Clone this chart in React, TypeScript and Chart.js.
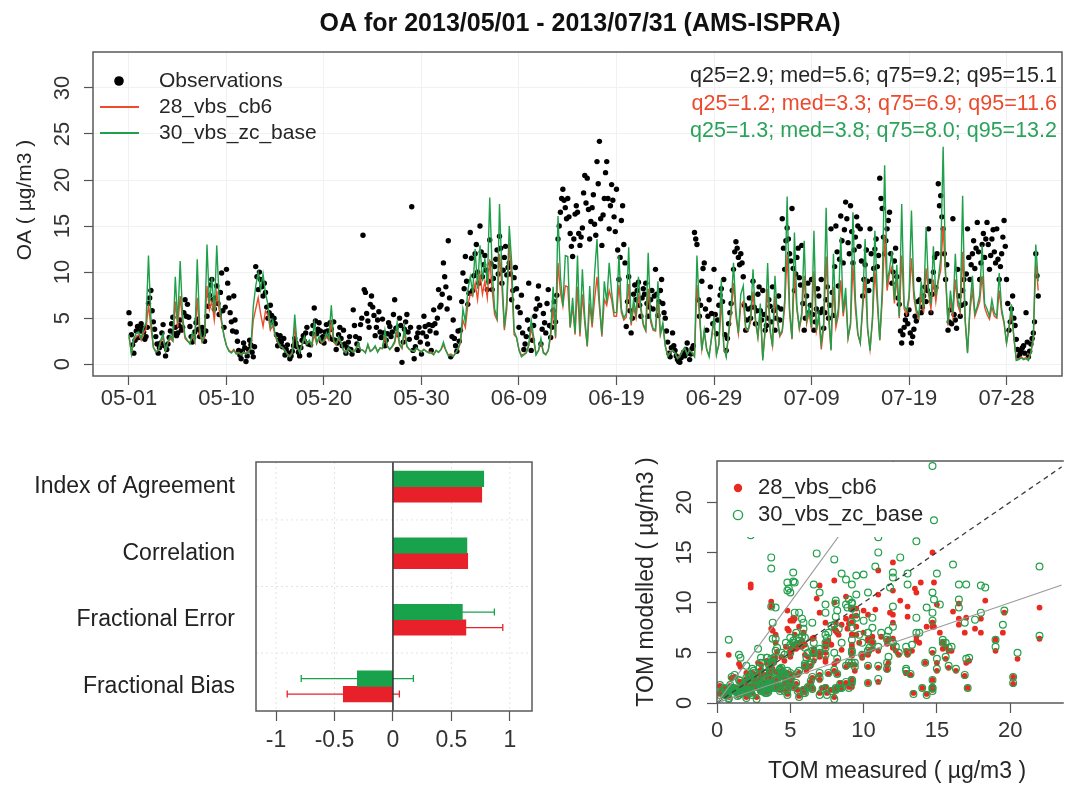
import React, { useEffect, useRef } from "react";
import { Chart, registerables } from "chart.js";

Chart.register(...registerables);

const FONT = '"Liberation Sans", Arial, Helvetica, sans-serif';

// ---------- Top panel: time series ----------
const chartTitle = "OA for 2013/05/01 - 2013/07/31 (AMS-ISPRA)";
const yTitleTop = "OA ( \u00b5g/m3 )";
const dateTickDays = [0, 10, 20, 30, 40, 50, 60, 70, 80, 90];
const dateTickLabels = ["05-01", "05-10", "05-20", "05-30", "06-09", "06-19", "06-29", "07-09", "07-19", "07-28"];
const oaTicks = [0, 5, 10, 15, 20, 25, 30];
const obsPerDay = 8;
const modelPerDay = 4;
const seriesNames = ["Observations", "28_vbs_cb6", "30_vbs_zc_base"];
const statsObs = "q25=2.9; med=5.6; q75=9.2; q95=15.1";
const statsCb6 = "q25=1.2; med=3.3; q75=6.9; q95=11.6";
const statsZc = "q25=1.3; med=3.8; q75=8.0; q95=13.2";

// observations, 8 per day (one line = one day)
const obsOA = [
  5.6, 4.4, 3.2, 2.1, 1.2, 2.6, 3.6, 4.1,
  2.9, 3.6, 4.4, 3.9, 3.5, 2.7, 3.0, 4.0,
  6.6, 7.2, 8.0, 5.8, 4.6, 3.8, 3.0, 2.2,
  1.2, 1.8, 2.3, 3.4, 4.3, 2.0, 0.9, 1.6,
  2.2, 2.9, 3.6, 4.4, 5.1, 3.3, 4.0, 3.1,
  3.4, 4.2, 4.8, 3.7, 4.0, 5.6, 7.0, 5.2,
  6.5, 5.1, 4.1, 3.0, 2.4, 2.9, 3.5, 4.5,
  4.9, 3.8, 3.0, 3.5, 4.0, 3.2, 2.5, 3.6,
  5.2, 6.3, 7.5, 8.6, 9.2, 7.0, 6.0, 7.2,
  8.5, 6.6, 5.4, 7.8, 9.9, 5.8, 4.0, 6.2,
  10.3, 8.8, 7.2, 5.6, 4.6, 3.6, 7.4, 4.8,
  3.5, 2.5, 1.5, 1.0, 0.6, 1.4, 2.3, 1.8,
  0.3, 0.9, 1.6, 2.6, 2.1, 1.3, 0.8, 1.9,
  10.6, 9.5, 8.1, 10.0, 9.2, 8.4, 7.4, 8.8,
  7.8, 6.2, 5.0, 5.6, 6.4, 5.3, 4.6, 5.0,
  4.4, 3.2, 2.0, 2.6, 3.1, 2.4, 1.9, 2.8,
  1.0, 1.6, 2.1, 1.2, 0.6, 0.9, 1.4, 2.0,
  2.8, 2.3, 1.9, 1.3, 0.9, 1.8, 2.6, 3.1,
  2.5, 3.4, 4.0, 2.2, 1.0, 2.1, 3.3, 4.2,
  6.1, 4.7, 3.3, 3.8, 4.5, 3.6, 2.5, 3.0,
  2.3, 3.5, 4.3, 3.6, 3.0, 4.5, 3.8, 2.7,
  4.6, 2.6, 1.6, 2.3, 3.2, 4.0, 2.8, 2.0,
  3.7, 2.2, 1.2, 1.8, 2.4, 3.0, 1.6, 1.1,
  5.9, 4.2, 3.0, 2.2, 1.5, 2.8, 4.3, 5.0,
  14.0, 8.1, 7.8, 5.5, 4.7, 4.0, 6.5, 7.4,
  6.2, 5.3, 3.1, 4.0, 4.8, 5.7, 3.5, 2.9,
  4.9, 3.4, 2.0, 2.6, 3.3, 4.5, 4.1, 3.0,
  3.5, 5.4, 7.0, 3.9, 1.6, 3.2, 5.0, 4.2,
  0.2, 2.4, 3.8, 4.6, 5.4, 3.5, 2.7, 4.0,
  17.1, 1.5, 0.6, 1.9, 2.9, 3.4, 4.0, 2.4,
  1.1, 3.4, 5.2, 4.1, 3.0, 2.2, 4.3, 3.6,
  1.5, 4.2, 5.9, 4.4, 3.4, 5.0, 8.1, 6.2,
  6.4, 7.6, 11.0, 9.5, 8.4, 6.0, 13.4, 7.2,
  0.8, 3.0, 4.8, 2.8, 2.0, 1.4, 3.6, 2.5,
  3.7, 6.8, 9.9, 8.2, 11.7, 9.0, 6.5, 7.7,
  14.3, 11.5, 8.0, 9.6, 12.0, 13.0, 10.0, 8.8,
  15.0, 12.2, 9.5, 10.8, 11.8, 10.2, 8.1, 9.0,
  13.5, 10.9, 8.1, 9.3, 10.6, 11.4, 12.4, 9.8,
  13.9, 12.6, 8.8, 10.2, 11.6, 12.8, 9.7, 10.5,
  11.0, 9.8, 7.0, 8.0, 9.4, 10.5, 8.2, 6.2,
  4.0, 5.6, 7.5, 3.4, 1.6, 2.2, 3.0, 4.8,
  8.8, 3.8, 1.5, 2.6, 4.2, 5.2, 6.0, 7.1,
  8.5, 6.4, 2.2, 3.8, 5.5, 4.5, 3.4, 6.6,
  8.1, 4.2, 2.9, 4.0, 5.8, 6.8, 4.6, 7.5,
  13.6, 15.0, 16.5, 18.0, 19.0, 17.8, 17.0, 15.8,
  18.0, 16.0, 14.2, 12.8, 11.7, 13.6, 16.3, 17.2,
  16.5, 14.2, 12.9, 13.8, 14.8, 18.6, 20.5, 17.5,
  20.2, 16.8, 13.6, 15.5, 17.0, 18.4, 15.2, 14.0,
  22.0, 19.6, 24.2, 15.8, 12.9, 16.2, 18.0, 20.8,
  22.0, 18.0, 14.7, 17.2, 19.5, 17.8, 16.0, 14.4,
  19.0, 12.4, 9.2, 11.6, 15.6, 17.2, 13.0, 11.0,
  4.1, 6.8, 9.5, 5.8, 3.4, 5.0, 7.6, 8.6,
  7.0, 8.0, 8.9, 6.4, 5.2, 7.2, 8.2, 7.6,
  8.8, 6.6, 5.2, 6.2, 7.0, 8.0, 6.0, 7.4,
  10.3, 7.6, 5.3, 6.8, 8.0, 9.2, 6.6, 5.6,
  5.0, 3.6, 2.4, 1.2, 0.8, 1.8, 3.4, 2.0,
  1.5, 0.9, 0.5, 0.3, 0.2, 0.7, 1.0, 1.3,
  0.9, 1.6, 2.3, 1.2, 0.5, 1.1, 1.7, 2.0,
  14.3, 13.6, 13.0, 7.0, 5.2, 6.4, 9.0, 10.4,
  11.0, 6.0, 3.7, 5.2, 7.0, 8.4, 5.5, 4.4,
  10.3, 5.4, 3.3, 4.8, 6.4, 7.5, 8.2, 6.8,
  9.2, 3.2, 1.5, 2.8, 4.4, 5.6, 6.6, 8.0,
  10.3, 12.2, 13.3, 12.6, 11.6, 10.8, 12.0, 11.0,
  9.5, 6.4, 3.7, 4.8, 6.0, 7.2, 5.0, 6.2,
  9.0, 6.2, 4.4, 5.8, 7.6, 8.4, 5.8, 4.8,
  8.0, 5.4, 3.7, 4.2, 5.0, 7.0, 6.3, 4.6,
  8.4, 5.8, 3.7, 5.0, 6.2, 7.4, 4.8, 6.0,
  15.8, 12.6, 10.3, 13.4, 14.8, 13.6, 12.0, 11.2,
  16.9, 10.4, 8.0, 9.8, 11.6, 12.6, 9.4, 8.6,
  12.9, 6.6, 3.7, 5.0, 7.4, 8.8, 5.6, 6.4,
  9.2, 5.4, 3.7, 4.6, 6.0, 8.2, 7.4, 5.6,
  9.2, 6.0, 3.9, 5.6, 7.0, 8.4, 5.0, 6.4,
  14.7, 7.8, 5.3, 10.6, 15.0, 12.2, 8.5, 11.4,
  16.1, 13.4, 11.0, 14.6, 17.6, 15.8, 13.2, 12.0,
  17.2, 14.4, 11.0, 12.4, 13.8, 16.0, 15.0, 12.8,
  14.7, 11.2, 7.4, 9.2, 10.8, 12.4, 9.0, 8.0,
  14.7, 12.0, 9.2, 10.4, 12.5, 13.6, 10.6, 11.8,
  20.2, 18.0, 16.9, 13.8, 12.0, 13.4, 14.7, 15.6,
  16.5, 12.0, 8.8, 10.0, 11.2, 12.6, 9.5, 7.2,
  6.5, 3.6, 2.3, 3.2, 4.0, 4.8, 5.4, 4.4,
  5.9, 3.4, 2.3, 3.0, 3.8, 5.2, 4.7, 6.8,
  9.2, 7.0, 5.6, 6.2, 7.4, 8.4, 6.8, 8.0,
  14.7, 9.0, 5.6, 7.6, 10.0, 11.6, 8.3, 12.0,
  19.6, 17.2, 18.3, 16.0, 14.7, 12.0, 9.2, 10.8,
  3.7, 4.6, 5.9, 4.4, 15.8, 5.4, 4.8, 3.9,
  10.3, 7.4, 5.2, 6.4, 8.0, 9.2, 6.6, 9.8,
  14.7, 11.6, 9.2, 10.8, 12.0, 13.4, 10.4, 12.6,
  15.4, 12.2, 9.2, 11.0, 13.0, 14.2, 11.6, 13.6,
  15.4, 13.0, 10.3, 11.8, 13.6, 14.6, 12.2, 11.0,
  14.7, 11.4, 9.2, 10.6, 12.0, 13.8, 15.6, 12.8,
  9.2, 6.6, 3.7, 4.6, 6.0, 7.4, 5.0, 4.2,
  2.7, 1.6, 0.8, 1.1, 1.4, 1.8, 2.0, 1.2,
  5.6, 2.4, 0.8, 1.4, 2.2, 2.8, 3.4, 4.6,
  12.0, 9.6, 7.4,
];

// models, 4 per day (one line = two days)
const cb6OA = [
  3.0, 1.2, 2.6, 3.0, 3.2, 2.6, 3.4, 3.8,
  6.5, 3.9, 1.9, 1.4, 1.5, 2.4, 2.9, 1.5,
  2.4, 2.8, 2.5, 6.8, 4.0, 7.4, 4.5, 2.8,
  2.5, 2.3, 3.0, 2.4, 7.2, 3.3, 2.4, 2.9,
  8.5, 5.9, 6.8, 4.8, 7.8, 5.9, 4.5, 3.1,
  2.0, 1.5, 1.3, 1.6, 1.2, 1.3, 1.1, 1.3,
  1.2, 1.4, 1.7, 4.8, 6.0, 7.2, 5.5, 4.1,
  5.8, 5.4, 3.7, 4.2, 3.0, 2.4, 1.9, 1.8,
  1.5, 1.1, 0.9, 1.3, 4.0, 1.9, 1.3, 2.1,
  2.8, 2.2, 2.5, 2.0, 3.2, 2.2, 2.8, 2.3,
  2.5, 3.0, 2.6, 4.4, 2.4, 2.1, 2.8, 2.3,
  1.5, 1.3, 1.7, 1.5, 1.4, 1.6, 2.1, 1.6,
  1.5, 1.3, 2.0, 1.4, 1.6, 1.9, 1.4, 1.7,
  1.7, 3.0, 1.9, 1.6, 1.9, 2.3, 3.6, 2.1,
  1.7, 3.4, 1.9, 1.6, 1.5, 1.4, 1.7, 1.5,
  1.4, 1.6, 1.4, 1.3, 1.3, 1.1, 1.5, 1.3,
  1.6, 2.1, 1.5, 1.0, 1.1, 0.9, 1.2, 1.6,
  2.3, 4.8, 4.0, 6.4, 7.6, 7.4, 8.8, 7.0,
  9.8, 7.6, 9.0, 7.2, 11.4, 8.0, 5.4, 4.8,
  12.0, 8.4, 3.7, 6.0, 13.2, 9.0, 3.2, 2.9,
  1.6, 1.0, 1.1, 1.3, 2.0, 3.9, 2.6, 1.1,
  1.5, 2.4, 1.3, 1.1, 1.5, 3.0, 6.2, 2.8,
  11.0, 7.8, 6.3, 8.5, 8.4, 4.0, 6.3, 3.2,
  8.4, 3.0, 7.6, 4.4, 1.9, 6.6, 4.0, 7.0,
  9.5, 6.2, 3.0, 7.0, 6.4, 8.0, 7.0, 5.2,
  5.2, 8.6, 5.6, 4.8, 5.1, 8.7, 4.2, 6.2,
  5.0, 7.4, 5.8, 4.2, 3.6, 8.2, 4.6, 3.7,
  3.6, 6.8, 3.2, 4.2, 2.0, 1.0, 1.3, 1.5,
  1.2, 0.7, 0.9, 1.4, 1.7, 1.1, 1.5, 1.3,
  0.9, 8.6, 5.4, 1.6, 3.5, 1.6, 1.0, 2.8,
  4.8, 1.1, 2.1, 7.0, 1.9, 0.9, 3.2, 5.4,
  8.8, 5.2, 3.3, 6.4, 6.8, 3.8, 3.6, 4.6,
  7.9, 4.6, 2.9, 5.6, 0.6, 3.6, 8.2, 3.6,
  2.0, 7.4, 4.6, 3.0, 3.5, 6.2, 12.0, 5.5,
  2.7, 10.0, 5.9, 3.8, 5.2, 9.6, 4.4, 5.6,
  3.8, 10.1, 3.6, 5.0, 1.6, 4.0, 11.7, 5.0,
  1.6, 8.4, 4.0, 5.3, 9.1, 5.2, 7.4, 2.8,
  4.2, 10.8, 6.0, 3.2, 2.3, 6.0, 9.3, 3.8,
  1.6, 4.7, 10.2, 6.6, 2.6, 7.0, 14.0, 8.0,
  9.9, 10.6, 6.6, 9.4, 5.0, 11.8, 6.0, 5.4,
  7.0, 11.5, 7.2, 5.6, 5.0, 7.6, 5.6, 10.4,
  7.6, 6.0, 9.2, 6.8, 9.0, 10.2, 15.0, 9.4,
  4.2, 7.0, 5.2, 9.2, 6.4, 5.6, 12.2, 4.8,
  1.3, 5.8, 8.0, 5.2, 6.0, 6.8, 9.6, 6.2,
  5.4, 4.9, 6.2, 5.2, 5.0, 8.0, 5.6, 4.4,
  2.3, 3.8, 5.8, 2.9, 0.6, 0.6, 0.8, 0.6,
  0.7, 0.6, 1.3, 2.8, 11.2, 8.0,
];

const zcOA = [
  3.2, 1.1, 2.8, 3.4, 3.5, 2.8, 3.9, 4.5,
  11.8, 5.0, 1.8, 1.3, 1.5, 2.6, 3.3, 1.4,
  2.5, 3.1, 2.6, 9.5, 4.5, 11.2, 5.2, 3.0,
  2.6, 2.2, 3.4, 2.5, 11.4, 4.0, 2.5, 3.2,
  13.0, 6.5, 9.4, 5.5, 12.9, 7.0, 4.8, 3.0,
  2.0, 1.4, 1.2, 1.5, 1.1, 1.2, 1.0, 1.3,
  1.1, 1.3, 1.8, 6.3, 8.5, 9.9, 8.1, 9.8,
  7.7, 6.5, 4.0, 4.8, 3.2, 2.5, 2.0, 1.8,
  1.5, 1.0, 0.8, 1.2, 5.4, 2.0, 1.3, 2.2,
  3.0, 2.2, 2.6, 2.0, 4.5, 2.3, 3.0, 2.4,
  2.6, 3.4, 2.8, 6.4, 2.6, 2.2, 3.0, 2.4,
  1.5, 1.2, 1.8, 1.5, 1.3, 1.6, 2.3, 1.6,
  1.5, 1.2, 2.2, 1.4, 1.6, 2.0, 1.3, 1.8,
  1.7, 3.7, 2.0, 1.6, 2.0, 2.5, 4.5, 2.2,
  1.8, 4.1, 2.0, 1.6, 1.5, 1.4, 1.8, 1.5,
  1.3, 1.6, 1.4, 1.2, 1.2, 1.0, 1.5, 1.3,
  1.6, 2.4, 1.5, 0.9, 1.0, 0.8, 1.2, 1.7,
  2.5, 6.0, 4.6, 8.0, 9.5, 7.8, 12.5, 8.2,
  12.9, 9.0, 11.5, 8.6, 18.1, 10.2, 6.0, 5.0,
  17.4, 9.8, 4.0, 6.8, 15.0, 11.0, 3.6, 2.9,
  1.5, 0.8, 1.0, 1.2, 2.1, 4.8, 3.0, 1.0,
  1.5, 2.8, 1.2, 1.0, 1.5, 3.5, 8.4, 3.0,
  16.1, 9.5, 6.3, 11.8, 11.7, 4.0, 7.2, 3.4,
  11.8, 3.4, 10.3, 5.0, 2.0, 8.5, 4.4, 9.8,
  13.6, 6.8, 3.2, 9.0, 6.7, 11.0, 7.8, 5.6,
  5.6, 11.8, 6.0, 5.0, 5.5, 12.7, 4.5, 7.0,
  5.4, 9.5, 6.2, 4.4, 3.7, 12.1, 5.0, 3.9,
  3.7, 9.0, 3.3, 4.5, 2.0, 0.8, 1.2, 1.5,
  1.2, 0.6, 0.8, 1.4, 1.8, 1.0, 1.5, 1.2,
  0.8, 11.8, 6.0, 1.5, 3.7, 1.6, 0.8, 3.0,
  5.2, 1.0, 2.2, 9.2, 2.0, 0.8, 3.5, 6.0,
  11.0, 5.8, 3.4, 7.6, 8.5, 4.0, 3.7, 5.0,
  10.3, 5.0, 3.0, 6.6, 0.4, 4.0, 11.0, 3.8,
  1.9, 9.6, 5.0, 3.2, 3.7, 7.0, 18.2, 6.0,
  2.8, 14.3, 6.3, 4.0, 5.6, 13.4, 4.8, 6.2,
  4.0, 14.5, 3.7, 5.5, 2.3, 4.5, 17.0, 5.8,
  1.5, 12.0, 4.4, 6.0, 13.8, 5.6, 8.3, 2.9,
  4.5, 16.5, 7.0, 3.4, 2.3, 6.8, 13.6, 4.0,
  1.5, 5.0, 14.5, 7.5, 2.6, 8.0, 21.6, 9.0,
  10.3, 12.3, 7.0, 10.8, 5.2, 17.4, 6.4, 5.8,
  7.4, 16.7, 8.0, 6.0, 5.2, 9.0, 6.0, 14.9,
  8.2, 6.5, 12.8, 7.4, 9.2, 11.5, 23.6, 10.0,
  4.4, 8.0, 5.5, 12.0, 7.0, 6.0, 18.3, 5.0,
  1.2, 6.3, 9.6, 5.5, 6.3, 7.5, 12.9, 6.6,
  6.0, 5.2, 7.0, 5.6, 5.2, 9.9, 6.0, 4.6,
  2.3, 4.0, 6.5, 3.0, 0.4, 0.5, 0.7, 0.5,
  0.6, 0.4, 1.2, 3.0, 13.0, 9.0,
];

// ---------- Bottom-left panel: metrics ----------
const metricLabels = ["Index of Agreement", "Correlation", "Fractional Error", "Fractional Bias"];
const zcMetric = [0.777, 0.633, 0.594, -0.305];
const zcMetricErr = [null, null, 0.274, 0.48];
const cb6Metric = [0.76, 0.64, 0.624, -0.425];
const cb6MetricErr = [null, null, 0.316, 0.48];
const metricTicks = [-1, -0.5, 0, 0.5, 1];
const metricTickLabels = ["-1", "-0.5", "0", "0.5", "1"];

// ---------- Bottom-right panel: scatter ----------
const scatterTicks = [0, 5, 10, 15, 20];
const scatterXTitle = "TOM measured ( \u00b5g/m3 )";
const scatterYTitle = "TOM modelled ( \u00b5g/m3 )";
const refSlopes = [1, 2, 0.5];

// colours
const C_RED_LINE = "#ee4b2b";
const C_GREEN_LINE = "#1fa04b";
const C_RED_TEXT = "#ec4a2c";
const C_GREEN_TEXT = "#2aa35a";
const C_BAR_GREEN = "#17a24b";
const C_BAR_RED = "#e8202a";
const C_SC_RED = "#e92a20";
const C_SC_GREEN = "#22a04b";
const C_FRAME = "#5a5a5a";
const C_TEXT = "#262626";

function rotText(ctx: CanvasRenderingContext2D, text: string, x: number, y: number) {
  ctx.save();
  ctx.translate(x, y);
  ctx.rotate(-Math.PI / 2);
  ctx.textAlign = "center";
  ctx.textBaseline = "middle";
  ctx.fillText(text, 0, 0);
  ctx.restore();
}

const baseOpts = {
  responsive: false,
  animation: false as const,
  events: [] as any[],
  normalized: true,
};

function TimeSeries() {
  const ref = useRef<HTMLCanvasElement>(null);
  useEffect(() => {
    const pts = (arr: number[], perDay: number) => arr.map((v, i) => ({ x: i / perDay, y: v }));
    const decor = {
      id: "tsDecor",
      afterDraw(chart: any) {
        const { ctx, chartArea: a, scales } = chart;
        ctx.save();
        ctx.strokeStyle = C_FRAME;
        ctx.lineWidth = 1.5;
        ctx.strokeRect(a.left, a.top, a.right - a.left, a.bottom - a.top);
        ctx.fillStyle = "#333";
        ctx.font = `22px ${FONT}`;
        oaTicks.forEach((v) => rotText(ctx, String(v), 63, scales.y.getPixelForValue(v)));
        ctx.font = `21px ${FONT}`;
        ctx.fillStyle = C_TEXT;
        rotText(ctx, yTitleTop, 25, 200);
        ctx.font = `bold 25px ${FONT}`;
        ctx.fillStyle = "#111";
        ctx.textAlign = "center";
        ctx.textBaseline = "middle";
        ctx.fillText(chartTitle, 580, 24);
        ctx.font = `21px ${FONT}`;
        ctx.textAlign = "left";
        ctx.fillStyle = "#000";
        ctx.beginPath();
        ctx.arc(119, 81, 4.8, 0, Math.PI * 2);
        ctx.fill();
        ctx.lineWidth = 2;
        ctx.strokeStyle = C_RED_LINE;
        ctx.beginPath();
        ctx.moveTo(100, 107);
        ctx.lineTo(139, 107);
        ctx.stroke();
        ctx.strokeStyle = C_GREEN_LINE;
        ctx.beginPath();
        ctx.moveTo(100, 133);
        ctx.lineTo(139, 133);
        ctx.stroke();
        ctx.fillStyle = C_TEXT;
        ctx.fillText(seriesNames[0], 159, 81);
        ctx.fillText(seriesNames[1], 159, 107);
        ctx.fillText(seriesNames[2], 159, 133);
        ctx.font = `21.5px ${FONT}`;
        ctx.textAlign = "right";
        ctx.fillStyle = C_TEXT;
        ctx.fillText(statsObs, 1057, 76);
        ctx.fillStyle = C_RED_TEXT;
        ctx.fillText(statsCb6, 1057, 104);
        ctx.fillStyle = C_GREEN_TEXT;
        ctx.fillText(statsZc, 1057, 131);
        ctx.restore();
      },
    };
    const chart = new Chart(ref.current!, {
      type: "line",
      data: {
        datasets: [
          { label: seriesNames[2], data: pts(zcOA, modelPerDay), borderColor: C_GREEN_LINE, borderWidth: 1.4, pointRadius: 0, tension: 0 },
          { label: seriesNames[1], data: pts(cb6OA, modelPerDay), borderColor: C_RED_LINE, borderWidth: 1.4, pointRadius: 0, tension: 0 },
          {
            label: seriesNames[0], data: pts(obsOA, obsPerDay), showLine: false, pointRadius: 2.7,
            pointBackgroundColor: "#000", pointBorderColor: "#000", pointBorderWidth: 0, borderColor: "#000",
          },
        ],
      },
      options: {
        ...baseOpts,
        layout: { padding: { left: 0, right: 5, top: 52, bottom: 0 } },
        plugins: { legend: { display: false }, tooltip: { enabled: false } },
        scales: {
          x: {
            type: "linear", min: -3.69, max: 95.69,
            afterFit: (s: any) => { s.height = 44; },
            afterBuildTicks: (s: any) => { s.ticks = dateTickDays.map((v) => ({ value: v })); },
            ticks: {
              autoSkip: false, maxRotation: 0, minRotation: 0, padding: 1, color: "#333",
              font: { family: FONT, size: 22 },
              callback: (_v: any, i: number) => dateTickLabels[i],
            },
            grid: { color: "#f1f1f1", tickColor: "#555", tickLength: 9, tickWidth: 1.2 },
            border: { display: false },
          },
          y: {
            type: "linear", min: -1.28, max: 33.9,
            afterFit: (s: any) => { s.width = 93; },
            afterBuildTicks: (s: any) => { s.ticks = oaTicks.map((v) => ({ value: v })); },
            ticks: { display: false },
            grid: { color: "#f1f1f1", tickColor: "#555", tickLength: 9, tickWidth: 1.2 },
            border: { display: false },
          },
        },
      } as any,
      plugins: [decor],
    });
    return () => chart.destroy();
  }, []);
  return <canvas ref={ref} width={1067} height={420} style={{ position: "absolute", left: 0, top: 0 }} />;
}

function MetricBars() {
  const ref = useRef<HTMLCanvasElement>(null);
  useEffect(() => {
    const errs = [zcMetricErr, cb6MetricErr];
    const vals = [zcMetric, cb6Metric];
    const cols = [C_BAR_GREEN, C_BAR_RED];
    const decor = {
      id: "barDecor",
      beforeDatasetsDraw(chart: any) {
        const { ctx, chartArea: a, scales } = chart;
        ctx.save();
        ctx.strokeStyle = "#e4e4e4";
        ctx.lineWidth = 1;
        ctx.setLineDash([2, 3]);
        [-1, -0.5, 0.5, 1].forEach((v) => {
          const x = scales.x.getPixelForValue(v);
          ctx.beginPath(); ctx.moveTo(x, a.top); ctx.lineTo(x, a.bottom); ctx.stroke();
        });
        [0.5, 1.5, 2.5].forEach((v) => {
          const y = scales.y.getPixelForValue(v);
          ctx.beginPath(); ctx.moveTo(a.left, y); ctx.lineTo(a.right, y); ctx.stroke();
        });
        ctx.setLineDash([]);
        ctx.lineWidth = 1.3;
        for (let d = 0; d < 2; d++) {
          const meta = chart.getDatasetMeta(d);
          errs[d].forEach((e, i) => {
            if (e == null) return;
            const y = meta.data[i].y;
            const x1 = scales.x.getPixelForValue(vals[d][i] - e);
            const x2 = scales.x.getPixelForValue(vals[d][i] + e);
            ctx.strokeStyle = cols[d];
            ctx.beginPath();
            ctx.moveTo(x1, y); ctx.lineTo(x2, y);
            ctx.moveTo(x1, y - 3.5); ctx.lineTo(x1, y + 3.5);
            ctx.moveTo(x2, y - 3.5); ctx.lineTo(x2, y + 3.5);
            ctx.stroke();
          });
        }
        ctx.restore();
      },
      afterDraw(chart: any) {
        const { ctx, chartArea: a, scales } = chart;
        ctx.save();
        const x0 = scales.x.getPixelForValue(0);
        ctx.strokeStyle = "#333";
        ctx.lineWidth = 1.6;
        ctx.beginPath(); ctx.moveTo(x0, a.top); ctx.lineTo(x0, a.bottom); ctx.stroke();
        ctx.strokeStyle = C_FRAME;
        ctx.lineWidth = 1.5;
        ctx.strokeRect(a.left, a.top, a.right - a.left, a.bottom - a.top);
        ctx.restore();
      },
    };
    const chart = new Chart(ref.current!, {
      type: "bar",
      data: {
        datasets: [
          { label: seriesNames[2], data: zcMetric.map((v, i) => ({ x: v, y: i })), backgroundColor: C_BAR_GREEN, barThickness: 15.5 },
          { label: seriesNames[1], data: cb6Metric.map((v, i) => ({ x: v, y: i })), backgroundColor: C_BAR_RED, barThickness: 15.5 },
        ],
      },
      options: {
        ...baseOpts,
        indexAxis: "y",
        layout: { padding: { left: 0, right: 28, top: 42, bottom: 0 } },
        plugins: { legend: { display: false }, tooltip: { enabled: false } },
        scales: {
          x: {
            type: "linear", min: -1.172, max: 1.19,
            afterFit: (s: any) => { s.height = 76; },
            afterBuildTicks: (s: any) => { s.ticks = metricTicks.map((v) => ({ value: v })); },
            ticks: {
              autoSkip: false, maxRotation: 0, padding: 6, color: "#333",
              font: { family: FONT, size: 23 },
              callback: (_v: any, i: number) => metricTickLabels[i],
            },
            grid: { drawOnChartArea: false, tickColor: "#555", tickLength: 10, tickWidth: 1.2 },
            border: { display: false },
          },
          y: {
            type: "linear", min: -0.37, max: 3.37, reverse: true, offset: false,
            afterFit: (s: any) => { s.width = 256; },
            afterBuildTicks: (s: any) => { s.ticks = metricLabels.map((_l, i) => ({ value: i })); },
            ticks: {
              autoSkip: false, padding: 21, color: "#222",
              font: { family: FONT, size: 23 },
              callback: (v: any) => metricLabels[v],
            },
            grid: { display: false, drawTicks: false, offset: false },
            border: { display: false },
          },
        },
      } as any,
      plugins: [decor],
    });
    return () => chart.destroy();
  }, []);
  return <canvas ref={ref} width={560} height={367} style={{ position: "absolute", left: 0, top: 420 }} />;
}

function ScatterPanel() {
  const ref = useRef<HTMLCanvasElement>(null);
  useEffect(() => {
    const step = obsPerDay / modelPerDay;
    const pairs = (mod: number[]) => mod.map((m, i) => ({ x: obsOA[i * step], y: m }));
    const decor = {
      id: "scDecor",
      afterDatasetsDraw(chart: any) {
        const { ctx, chartArea: a, scales } = chart;
        ctx.save();
        ctx.beginPath();
        ctx.rect(a.left, a.top, a.right - a.left, a.bottom - a.top);
        ctx.clip();
        const xm = scales.x.max;
        refSlopes.forEach((k) => {
          ctx.beginPath();
          if (k === 1) {
            ctx.strokeStyle = "#3a3a3a";
            ctx.lineWidth = 1.3;
            ctx.setLineDash([5, 4]);
          } else {
            ctx.strokeStyle = "#9a9a9a";
            ctx.lineWidth = 1.1;
            ctx.setLineDash([]);
          }
          ctx.moveTo(scales.x.getPixelForValue(0), scales.y.getPixelForValue(0));
          ctx.lineTo(scales.x.getPixelForValue(xm), scales.y.getPixelForValue(k * xm));
          ctx.stroke();
        });
        ctx.restore();
      },
      afterDraw(chart: any) {
        const { ctx, chartArea: a, scales } = chart;
        ctx.save();
        ctx.fillStyle = "#fff";
        ctx.fillRect(a.left + 1, a.top + 1, 207, 75);
        ctx.fillStyle = C_SC_RED;
        ctx.beginPath(); ctx.arc(138, 68, 4.2, 0, Math.PI * 2); ctx.fill();
        ctx.strokeStyle = C_SC_GREEN;
        ctx.lineWidth = 1.4;
        ctx.beginPath(); ctx.arc(138, 95, 4.6, 0, Math.PI * 2); ctx.stroke();
        ctx.font = `22px ${FONT}`;
        ctx.fillStyle = C_TEXT;
        ctx.textAlign = "left";
        ctx.textBaseline = "middle";
        ctx.fillText(seriesNames[1], 158, 68);
        ctx.fillText(seriesNames[2], 158, 95);
        ctx.strokeStyle = C_FRAME;
        ctx.lineWidth = 1.5;
        ctx.beginPath();
        ctx.moveTo(a.right + 2, a.top);
        ctx.lineTo(a.left, a.top);
        ctx.lineTo(a.left, a.bottom);
        ctx.lineTo(a.right + 2, a.bottom);
        ctx.stroke();
        ctx.fillStyle = "#333";
        ctx.font = `22px ${FONT}`;
        scatterTicks.forEach((v) => rotText(ctx, String(v), 85, scales.y.getPixelForValue(v)));
        ctx.fillStyle = C_TEXT;
        ctx.font = `23px ${FONT}`;
        rotText(ctx, scatterYTitle, 47, 162);
        ctx.textAlign = "center";
        ctx.textBaseline = "middle";
        ctx.fillText(scatterXTitle, 297, 352);
        ctx.restore();
      },
    };
    const chart = new Chart(ref.current!, {
      type: "scatter",
      data: {
        datasets: [
          {
            label: seriesNames[2], data: pairs(zcOA), pointRadius: 3.4, pointBackgroundColor: "rgba(0,0,0,0)",
            pointBorderColor: C_SC_GREEN, pointBorderWidth: 1.2, borderColor: C_SC_GREEN,
          },
          {
            label: seriesNames[1], data: pairs(cb6OA), pointRadius: 2.9, pointBackgroundColor: C_SC_RED,
            pointBorderWidth: 0, pointBorderColor: C_SC_RED, borderColor: C_SC_RED,
          },
        ],
      },
      options: {
        ...baseOpts,
        layout: { padding: { left: 0, right: 0, top: 41, bottom: 0 } },
        plugins: { legend: { display: false }, tooltip: { enabled: false } },
        scales: {
          x: {
            type: "linear", min: 0, max: 23.52,
            afterFit: (s: any) => { s.height = 84; },
            afterBuildTicks: (s: any) => { s.ticks = scatterTicks.map((v) => ({ value: v })); },
            ticks: {
              autoSkip: false, maxRotation: 0, padding: 5, color: "#333",
              font: { family: FONT, size: 22 },
              callback: (v: any) => String(v),
            },
            grid: { drawOnChartArea: false, tickColor: "#555", tickLength: 10, tickWidth: 1.2 },
            border: { display: false },
          },
          y: {
            type: "linear", min: 0, max: 24.1,
            afterFit: (s: any) => { s.width = 117; },
            afterBuildTicks: (s: any) => { s.ticks = scatterTicks.map((v) => ({ value: v })); },
            ticks: { display: false },
            grid: { drawOnChartArea: false, tickColor: "#555", tickLength: 10, tickWidth: 1.2 },
            border: { display: false },
          },
        },
      } as any,
      plugins: [decor],
    });
    return () => chart.destroy();
  }, []);
  return <canvas ref={ref} width={467} height={367} style={{ position: "absolute", left: 600, top: 420 }} />;
}

export default function App() {
  return (
    <div
      style={{
        position: "absolute", left: 0, top: 0, width: 1067, height: 787,
        overflow: "hidden", background: "#fff",
      }}
    >
      <TimeSeries />
      <MetricBars />
      <ScatterPanel />
    </div>
  );
}
